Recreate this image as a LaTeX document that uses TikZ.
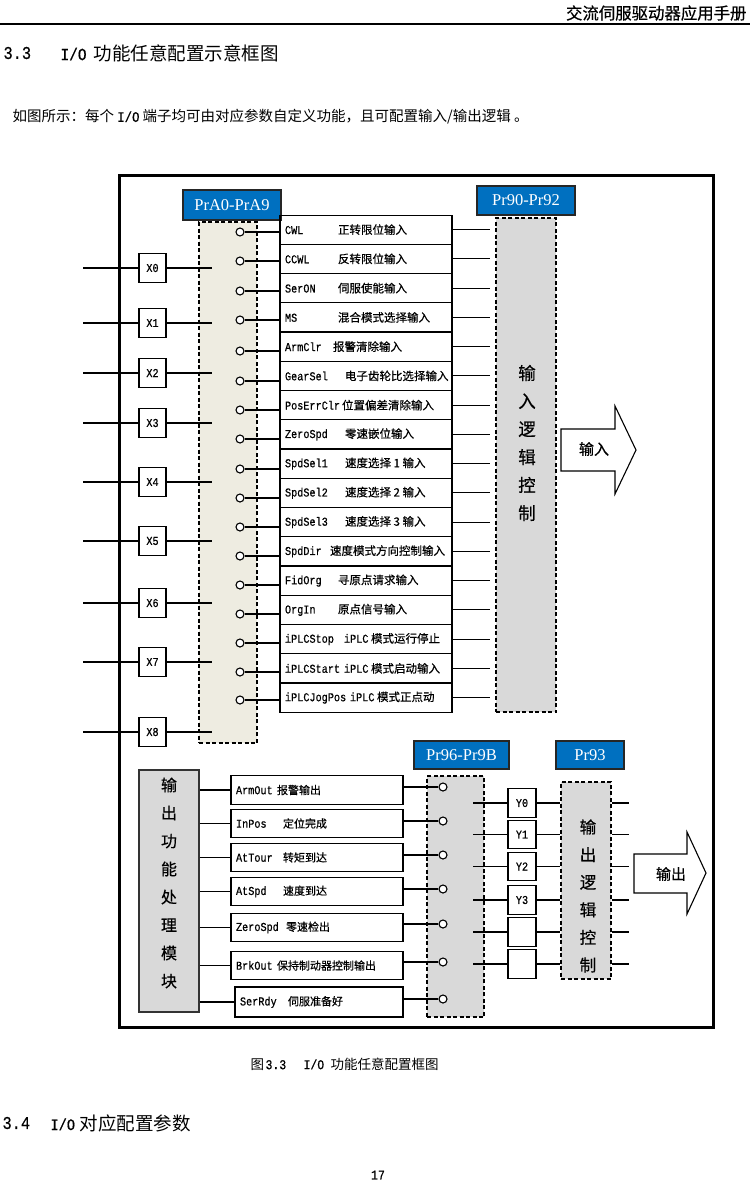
\documentclass[tikz,border=0pt]{standalone}
\usepackage{fontspec}
\newfontfamily\cjk{Noto Sans CJK SC}
\newfontfamily\cjkb{Noto Sans CJK SC}[FakeBold=0.5]
\newfontfamily\latf{Liberation Mono}[FakeStretch=0.85,FakeBold=0.6]
\newfontfamily\serf{Liberation Serif}
\usetikzlibrary{positioning}
\definecolor{tagblue}{RGB}{0,112,192}
\definecolor{beige}{RGB}{238,236,225}
\definecolor{lgray}{RGB}{217,217,217}
\newcommand{\flab}[2]{\makebox[#1][l]{\latf\fontsize{12}{14}\selectfont #2}}
\newcommand{\fitem}[4][162pt]{\makebox[#1][l]{\flab{#2}{#3}#4}}
\newcommand{\ltx}[1]{{\latf\fontsize{12}{14}\selectfont #1}}
\tikzset{
  funcbox/.style={draw,rectangle,minimum width=172pt,minimum height=29pt,inner xsep=5pt,inner ysep=0pt,font=\cjkb\fontsize{11.5}{13}\selectfont},
  outbox/.style={funcbox,minimum height=28.5pt,font=\cjkb\fontsize{11}{13}\selectfont},
  term/.style={draw,circle,fill=white,minimum size=8pt,inner sep=0pt},
  xbox/.style={draw,rectangle,minimum width=27pt,minimum height=29pt,inner sep=0pt,font=\latf\fontsize{12}{14}\selectfont},
  ybox/.style={xbox,minimum width=28pt,minimum height=28.5pt},
  tag/.style={draw=black!85,fill=tagblue,text=white,inner sep=0pt,font=\serf\fontsize{16.5}{18}\selectfont},
  dashcol/.style={draw,dash pattern=on 4pt off 2.5pt,line width=1.3pt,inner sep=0pt},
  vtext/.style={align=center,inner sep=0pt},
  bigarrow/.style={draw,fill=white,line width=1.1pt,line join=miter},
  pagetext/.style={anchor=west,inner sep=0pt}
}

\begin{document}
\begin{tikzpicture}[x=1pt,y=-1pt,line width=1.1pt]
  \fill[white] (0,0) rectangle (750,1187);
  \useasboundingbox (0,0) rectangle (750,1187);

  % page text
  \node[anchor=east,inner sep=0pt,font=\cjkb\fontsize{16.4}{18}\selectfont] (head) at (747,13) {交流伺服驱动器应用手册};
  \draw[line width=2pt] (0,23.5) -- (750,23.5);
  \node[pagetext,font=\latf\fontsize{18}{22}\selectfont] (sec33) at (3,53) {3.3};
  \node[pagetext,font=\cjk\fontsize{18.5}{22}\selectfont] (sec33t) at (60,53) {\makebox[33pt][l]{\latf\fontsize{17}{22}\selectfont I/O}功能任意配置示意框图};
  \node[pagetext,font=\cjk\fontsize{14.5}{17}\selectfont] (intro) at (12,117) {如图所示：每个 {\latf\fontsize{14.5}{17}\selectfont I/O} 端子均可由对应参数自定义功能，且可配置输入/输出逻辑 。};
  \node[pagetext,font=\cjk\fontsize{13.5}{16}\selectfont] (caption) at (250,1064) {\makebox[15pt][l]{图}\makebox[38pt][l]{\latf\fontsize{13.5}{16}\selectfont 3.3}\makebox[27pt][l]{\latf\fontsize{13.5}{16}\selectfont I/O}功能任意配置框图};
  \node[pagetext,font=\latf\fontsize{18}{22}\selectfont] (sec34) at (2,1123) {3.4};
  \node[pagetext,font=\cjk\fontsize{18.5}{22}\selectfont] (sec34t) at (50,1123) {\makebox[29pt][l]{\latf\fontsize{16}{22}\selectfont I/O}对应配置参数};
  \node[font=\latf\fontsize{13.5}{16}\selectfont] (pageno) at (378,1175) {17};

  \draw[line width=3pt] (119.5,175.5) rectangle (713.5,1027.5);

  \coordinate (xl) at (83,0);
  \coordinate (xr) at (212,0);
  \coordinate (ein) at (490,0);
  \coordinate (yl) at (473,0);
  \coordinate (yr) at (629,0);

  % columns
  \node[dashcol,fill=beige,minimum width=58pt,minimum height=521pt] (pracol) at (228,482.5) {};
  \node[dashcol,fill=lgray,minimum width=60pt,minimum height=494pt] (incol) at (526,465) {};
  \node[dashcol,fill=lgray,minimum width=57pt,minimum height=241pt] (p96col) at (455.5,896.5) {};
  \node[dashcol,fill=lgray,minimum width=50pt,minimum height=197pt] (p93col) at (586,880.5) {};
  \node[draw=black!80,fill=lgray,minimum width=60pt,minimum height=242pt,inner sep=0pt] (omod) at (169,891) {};

  \node[tag,minimum width=98pt,minimum height=30pt] (tagA) at (232,205) {PrA0-PrA9};
  \node[tag,minimum width=98pt,minimum height=29pt] (tag90) at (526,200.5) {Pr90-Pr92};
  \node[tag,minimum width=95pt,minimum height=28pt] (tag96) at (461.5,755) {Pr96-Pr9B};
  \node[tag,minimum width=68pt,minimum height=28pt] (tag93) at (590,755) {Pr93};

  \node[vtext,font=\cjkb\fontsize{17.5}{28}\selectfont] (intxt) at (527,443) {输\\入\\逻\\辑\\控\\制};
  \node[vtext,font=\cjkb\fontsize{16}{28}\selectfont] (omodtxt) at (169,883) {输\\出\\功\\能\\处\\理\\模\\块};
  \node[vtext,font=\cjkb\fontsize{16.5}{27.6}\selectfont] (outtxt) at (588,896) {输\\出\\逻\\辑\\控\\制};

  % X inputs
  \node[xbox] (x0) at (152.5,268) {X0};
  \node[xbox] (x1) at (152.5,323) {X1};
  \node[xbox] (x2) at (152.5,373) {X2};
  \node[xbox] (x3) at (152.5,423) {X3};
  \node[xbox] (x4) at (152.5,482) {X4};
  \node[xbox] (x5) at (152.5,541) {X5};
  \node[xbox] (x6) at (152.5,603) {X6};
  \node[xbox] (x7) at (152.5,662) {X7};
  \node[xbox] (x8) at (152.5,732) {X8};
  \draw (x0.west -| xl) -- (x0.west) (x0.east) -- (x0.east -| xr);
  \draw (x1.west -| xl) -- (x1.west) (x1.east) -- (x1.east -| xr);
  \draw (x2.west -| xl) -- (x2.west) (x2.east) -- (x2.east -| xr);
  \draw (x3.west -| xl) -- (x3.west) (x3.east) -- (x3.east -| xr);
  \draw (x4.west -| xl) -- (x4.west) (x4.east) -- (x4.east -| xr);
  \draw (x5.west -| xl) -- (x5.west) (x5.east) -- (x5.east -| xr);
  \draw (x6.west -| xl) -- (x6.west) (x6.east) -- (x6.east -| xr);
  \draw (x7.west -| xl) -- (x7.west) (x7.east) -- (x7.east -| xr);
  \draw (x8.west -| xl) -- (x8.west) (x8.east) -- (x8.east -| xr);

  % input functions
  \node[funcbox] (f0) at (366,229.6) {\fitem{53pt}{CWL}{正转限位输入}};
  \node[funcbox] (f1) at (366,258.85) {\fitem{53pt}{CCWL}{反转限位输入}};
  \node[funcbox] (f2) at (366,288.1) {\fitem{53pt}{SerON}{伺服使能输入}};
  \node[funcbox] (f3) at (366,317.35) {\fitem{53pt}{MS}{混合模式选择输入}};
  \node[funcbox] (f4) at (366,346.6) {\fitem{48pt}{ArmClr}{报警清除输入}};
  \node[funcbox] (f5) at (366,375.85) {\fitem{60pt}{GearSel}{电子齿轮比选择输入}};
  \node[funcbox] (f6) at (366,405.1) {\fitem{57pt}{PosErrClr}{位置偏差清除输入}};
  \node[funcbox] (f7) at (366,434.35) {\fitem{60pt}{ZeroSpd}{零速嵌位输入}};
  \node[funcbox] (f8) at (366,463.6) {\fitem{60pt}{SpdSel1}{速度选择 1 输入}};
  \node[funcbox] (f9) at (366,492.85) {\fitem{60pt}{SpdSel2}{速度选择 2 输入}};
  \node[funcbox] (f10) at (366,522.1) {\fitem{60pt}{SpdSel3}{速度选择 3 输入}};
  \node[funcbox] (f11) at (366,551.35) {\fitem{45pt}{SpdDir}{速度模式方向控制输入}};
  \node[funcbox] (f12) at (366,580.6) {\fitem{53pt}{FidOrg}{寻原点请求输入}};
  \node[funcbox] (f13) at (366,609.85) {\fitem{53pt}{OrgIn}{原点信号输入}};
  \node[funcbox] (f14) at (366,639.1) {\fitem{59pt}{iPLCStop}{\ltx{iPLC} 模式运行停止}};
  \node[funcbox] (f15) at (366,668.35) {\fitem{59pt}{iPLCStart}{\ltx{iPLC} 模式启动输入}};
  \node[funcbox] (f16) at (366,697.6) {\fitem{65pt}{iPLCJogPos}{\ltx{iPLC} 模式正点动}};

  \node[term] (ci0) at (240,232) {};
  \node[term] (ci1) at (240,261) {};
  \node[term] (ci2) at (240,291) {};
  \node[term] (ci3) at (240,320) {};
  \node[term] (ci4) at (240,351) {};
  \node[term] (ci5) at (240,381) {};
  \node[term] (ci6) at (240,410) {};
  \node[term] (ci7) at (240,439) {};
  \node[term] (ci8) at (240,469) {};
  \node[term] (ci9) at (240,498) {};
  \node[term] (ci10) at (240,527) {};
  \node[term] (ci11) at (240,556) {};
  \node[term] (ci12) at (240,585) {};
  \node[term] (ci13) at (240,614) {};
  \node[term] (ci14) at (240,643) {};
  \node[term] (ci15) at (240,672) {};
  \node[term] (ci16) at (240,700) {};

  \draw (ci0.east) -- (ci0 -| f0.west) (f0.east) -- (f0.east -| ein);
  \draw (ci1.east) -- (ci1 -| f1.west) (f1.east) -- (f1.east -| ein);
  \draw (ci2.east) -- (ci2 -| f2.west) (f2.east) -- (f2.east -| ein);
  \draw (ci3.east) -- (ci3 -| f3.west) (f3.east) -- (f3.east -| ein);
  \draw (ci4.east) -- (ci4 -| f4.west) (f4.east) -- (f4.east -| ein);
  \draw (ci5.east) -- (ci5 -| f5.west) (f5.east) -- (f5.east -| ein);
  \draw (ci6.east) -- (ci6 -| f6.west) (f6.east) -- (f6.east -| ein);
  \draw (ci7.east) -- (ci7 -| f7.west) (f7.east) -- (f7.east -| ein);
  \draw (ci8.east) -- (ci8 -| f8.west) (f8.east) -- (f8.east -| ein);
  \draw (ci9.east) -- (ci9 -| f9.west) (f9.east) -- (f9.east -| ein);
  \draw (ci10.east) -- (ci10 -| f10.west) (f10.east) -- (f10.east -| ein);
  \draw (ci11.east) -- (ci11 -| f11.west) (f11.east) -- (f11.east -| ein);
  \draw (ci12.east) -- (ci12 -| f12.west) (f12.east) -- (f12.east -| ein);
  \draw (ci13.east) -- (ci13 -| f13.west) (f13.east) -- (f13.east -| ein);
  \draw (ci14.east) -- (ci14 -| f14.west) (f14.east) -- (f14.east -| ein);
  \draw (ci15.east) -- (ci15 -| f15.west) (f15.east) -- (f15.east -| ein);
  \draw (ci16.east) -- (ci16 -| f16.west) (f16.east) -- (f16.east -| ein);

  \draw[bigarrow] (561,429) -- (615,429) -- (615,406) -- (636,450) -- (615,494) -- (615,471) -- (561,471) -- cycle;
  \node[font=\cjkb\fontsize{15}{18}\selectfont] (inarr) at (594,449) {输入};

  % output functions
  \node[outbox] (o0) at (317,790) {\fitem{41pt}{ArmOut}{报警输出}};
  \node[outbox] (o1) at (317,823.5) {\fitem{47pt}{InPos}{定位完成}};
  \node[outbox] (o2) at (317,857.5) {\fitem{47pt}{AtTour}{转矩到达}};
  \node[outbox] (o3) at (317,891.5) {\fitem{47pt}{AtSpd}{速度到达}};
  \node[outbox] (o4) at (317,927.5) {\fitem{50pt}{ZeroSpd}{零速检出}};
  \node[outbox] (o5) at (317,965.5) {\fitem{41pt}{BrkOut}{保持制动器控制输出}};
  \node[outbox,minimum width=168pt,minimum height=30pt] (o6) at (319,1002) {\fitem[158pt]{48pt}{SerRdy}{伺服准备好}};

  \node[term] (u0) at (443,787) {};
  \node[term] (u1) at (443,821) {};
  \node[term] (u2) at (443,855) {};
  \node[term] (u3) at (443,889) {};
  \node[term] (u4) at (443,924) {};
  \node[term] (u5) at (443,962) {};
  \node[term] (u6) at (443,999) {};

  \draw (o0.west -| omod.east) -- (o0.west) (u0.west) -- (u0 -| o0.east);
  \draw (o1.west -| omod.east) -- (o1.west) (u1.west) -- (u1 -| o1.east);
  \draw (o2.west -| omod.east) -- (o2.west) (u2.west) -- (u2 -| o2.east);
  \draw (o3.west -| omod.east) -- (o3.west) (u3.west) -- (u3 -| o3.east);
  \draw (o4.west -| omod.east) -- (o4.west) (u4.west) -- (u4 -| o4.east);
  \draw (o5.west -| omod.east) -- (o5.west) (u5.west) -- (u5 -| o5.east);
  \draw (o6.west -| omod.east) -- (o6.west) (u6.west) -- (u6 -| o6.east);

  \node[ybox] (y0) at (522,803) {Y0};
  \node[ybox] (y1) at (522,834.5) {Y1};
  \node[ybox] (y2) at (522,866.5) {Y2};
  \node[ybox] (y3) at (522,900) {Y3};
  \node[ybox] (y4) at (522,932) {};
  \node[ybox] (y5) at (522,964) {};

  \draw (y0.west -| yl) -- (y0.west) (y0.east) -- (y0.east -| p93col.west) (y0 -| p93col.east) -- (y0 -| yr);
  \draw (y1.west -| yl) -- (y1.west) (y1.east) -- (y1.east -| p93col.west) (y1 -| p93col.east) -- (y1 -| yr);
  \draw (y2.west -| yl) -- (y2.west) (y2.east) -- (y2.east -| p93col.west) (y2 -| p93col.east) -- (y2 -| yr);
  \draw (y3.west -| yl) -- (y3.west) (y3.east) -- (y3.east -| p93col.west) (y3 -| p93col.east) -- (y3 -| yr);
  \draw (y4.west -| yl) -- (y4.west) (y4.east) -- (y4.east -| p93col.west) (y4 -| p93col.east) -- (y4 -| yr);
  \draw (y5.west -| yl) -- (y5.west) (y5.east) -- (y5.east -| p93col.west) (y5 -| p93col.east) -- (y5 -| yr);

  \draw[bigarrow] (634,854) -- (687,854) -- (687,832) -- (706,873) -- (687,914) -- (687,893) -- (634,893) -- cycle;
  \node[font=\cjkb\fontsize{15}{18}\selectfont] (outarr) at (671,874) {输出};
\end{tikzpicture}
\end{document}
